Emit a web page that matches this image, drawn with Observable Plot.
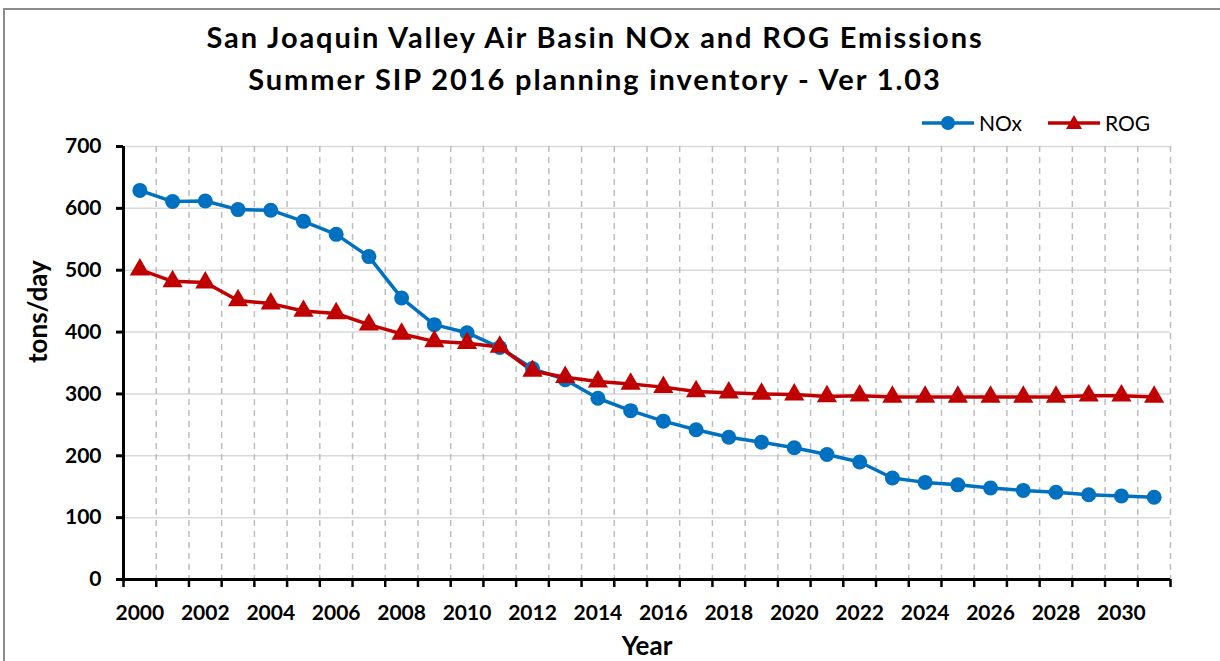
<!DOCTYPE html>
<html><head><meta charset="utf-8">
<script src="https://cdn.jsdelivr.net/npm/d3@7"></script>
<script src="https://cdn.jsdelivr.net/npm/@observablehq/plot@0.6"></script>
<style>
body{margin:0;background:#fff;font-family:Lato, sans-serif;width:1220px;height:661px;overflow:hidden;position:relative;}
#frame{position:absolute;left:3px;top:8px;width:1300px;height:700px;border:2px solid #8c8c8c;z-index:3;pointer-events:none;}
#title{position:absolute;left:0;top:16px;width:1190px;text-align:center;font-weight:bold;font-size:29px;letter-spacing:1.9px;line-height:42px;color:#000;z-index:2;}
#legend{position:absolute;top:110px;left:922px;font-size:21px;display:flex;align-items:center;color:#000;z-index:2;}
#legend span{margin-right:26px;margin-left:5px;}
#chart{position:absolute;left:0;top:105px;z-index:1;}
#chart g[aria-label="y-axis tick label"], #chart g[aria-label="y-axis tick label"] text,
#chart g[aria-label="x-axis tick label"], #chart g[aria-label="x-axis tick label"] text{font-size:21px !important;font-weight:bold !important;}
#chart g[aria-label="y label"] text{font-size:26px !important;font-weight:bold !important;}
#chart g[aria-label="x label"] text{font-size:26px !important;font-weight:bold !important;}
</style></head>
<body>
<div id="frame"></div>
<div id="title">San Joaquin Valley Air Basin NOx and ROG Emissions<br>Summer SIP 2016 planning inventory - Ver 1.03</div>
<div id="legend"></div>
<div id="chart"></div>
<script>
const years = [2000,2001,2002,2003,2004,2005,2006,2007,2008,2009,2010,2011,2012,2013,2014,2015,
               2016,2017,2018,2019,2020,2021,2022,2023,2024,2025,2026,2027,2028,2029,2030,2031];
const noxValues = [629,611,612,598,597,579,558,522,455,412,399,375,341,323,293,273,
                   256,242,230,222,213,202,190,164,157,153,148,144,141,137,135,133];
const rogValues = [501,482,480,451,446,434,430,412,397,385,382,376,337,327,320,316,
                   311,304,302,300,299,296,297,295,295,295,295,295,295,297,297,295];
const yTicks = [0,100,200,300,400,500,600,700];
const labelYears = [2000,2002,2004,2006,2008,2010,2012,2014,2016,2018,2020,2022,2024,2026,2028,2030];
const seriesNames = ["NOx","ROG"];
const seriesColors = ["#0070C0","#C00000"];

const data = years.flatMap((y,i)=>[
  {year:y, value:noxValues[i], series:"NOx"},
  {year:y, value:rogValues[i], series:"ROG"}
]);
const bounds = years.map(y=>y-0.5).concat([years[years.length-1]+0.5]);

const chart = Plot.plot({
  width:1220, height:556,
  marginLeft:123, marginRight:50, marginTop:41, marginBottom:82,
  x:{domain:[bounds[0], bounds[bounds.length-1]]},
  y:{domain:[0,700]},
  color:{domain:seriesNames, range:seriesColors},
  symbol:{domain:seriesNames, range:["circle","triangle"]},
  style:{fontFamily:"Lato, sans-serif", background:"transparent", color:"black"},
  marks:[
    Plot.gridY(yTicks,{stroke:"#d9d9d9", strokeOpacity:1, strokeWidth:1.5}),
    Plot.ruleX(bounds.slice(1),{stroke:"#bdbdbd", strokeDasharray:"6,5", strokeWidth:1.5}),
    Plot.axisY(yTicks,{tickSize:7, strokeWidth:3, fontWeight:"bold", fontSize:21, tickPadding:15, label:null}),
    Plot.axisX(bounds,{tickSize:8, strokeWidth:2.5, tickFormat:()=>"", label:null}),
    Plot.axisX(labelYears,{tickSize:0, tickPadding:26, fontWeight:"bold", fontSize:21, tickFormat:d=>String(d), label:null}),
    Plot.ruleX([bounds[0]],{strokeWidth:3, stroke:"black"}),
    Plot.ruleY([0],{strokeWidth:3, stroke:"black"}),
    Plot.line(data,{x:"year", y:"value", stroke:"series", z:"series", strokeWidth:3.5}),
    Plot.dot(data,{x:"year", y:"value", fill:"series", symbol:"series", r:7.5}),
    Plot.text(["tons/day"],{frameAnchor:"left", lineAnchor:"middle", rotate:-90, dx:-85, fontSize:26, fontWeight:"bold", fill:"black", ariaLabel:"y label"}),
    Plot.text(["Year"],{frameAnchor:"bottom", lineAnchor:"middle", dy:67, fontSize:26, fontWeight:"bold", fill:"black", ariaLabel:"x label"})
  ]
});
document.getElementById("chart").appendChild(chart);

// legend
const leg = document.getElementById("legend");
seriesNames.forEach((name,i)=>{
  const c = seriesColors[i];
  const sym = i===0
    ? `<circle cx="26" cy="12" r="7" fill="${c}"/>`
    : `<path d="M26,4 L34,18 L18,18 Z" fill="${c}"/>`;
  leg.insertAdjacentHTML("beforeend",
    `<svg width="52" height="24"><line x1="0" x2="52" y1="12" y2="12" stroke="${c}" stroke-width="3.5"/>${sym}</svg><span>${name}</span>`);
});
</script>
</body></html>
